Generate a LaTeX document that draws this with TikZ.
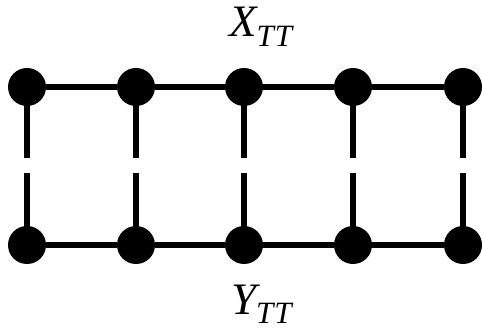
\documentclass[tikz,border=0pt]{standalone}
\usepackage{fontspec}
\setmainfont{Liberation Serif}
\newcommand{\sitelabel}[1]{{\itshape #1\raisebox{-9.5pt}{\fontsize{31}{31}\selectfont\itshape T\kern1pt T}}}
\begin{document}
\begin{tikzpicture}[x=1pt,y=-1pt,
  dot/.style={circle,fill=black,inner sep=0pt,minimum size=38pt},
  bond/.style={line width=6.7pt},
  lbl/.style={inner sep=0pt,anchor=base west,font=\fontsize{45}{48}\selectfont}]
  \useasboundingbox (0,0) rectangle (482,331);
  % two rows of sites
  \foreach \i/\x in {1/27,2/136,3/244,4/353,5/463}{
    \node[dot] (t\i) at (\x,87) {};
    \node[dot] (b\i) at (\x,245) {};
    \coordinate (tu\i) at (\x,158);
    \coordinate (bl\i) at (\x,173);
  }
  % horizontal bonds
  \foreach \i/\j in {1/2,2/3,3/4,4/5}{
    \draw[bond] (t\i) -- (t\j);
    \draw[bond] (b\i) -- (b\j);
  }
  % broken vertical legs
  \foreach \i in {1,...,5}{
    \draw[bond] (t\i.center) -- (tu\i);
    \draw[bond] (bl\i) -- (b\i.center);
  }
  \node[lbl] (xl) at (229,37) {\sitelabel{X}};
  \node[lbl] (yl) at (231,314) {\sitelabel{Y}};
\end{tikzpicture}
\end{document}
